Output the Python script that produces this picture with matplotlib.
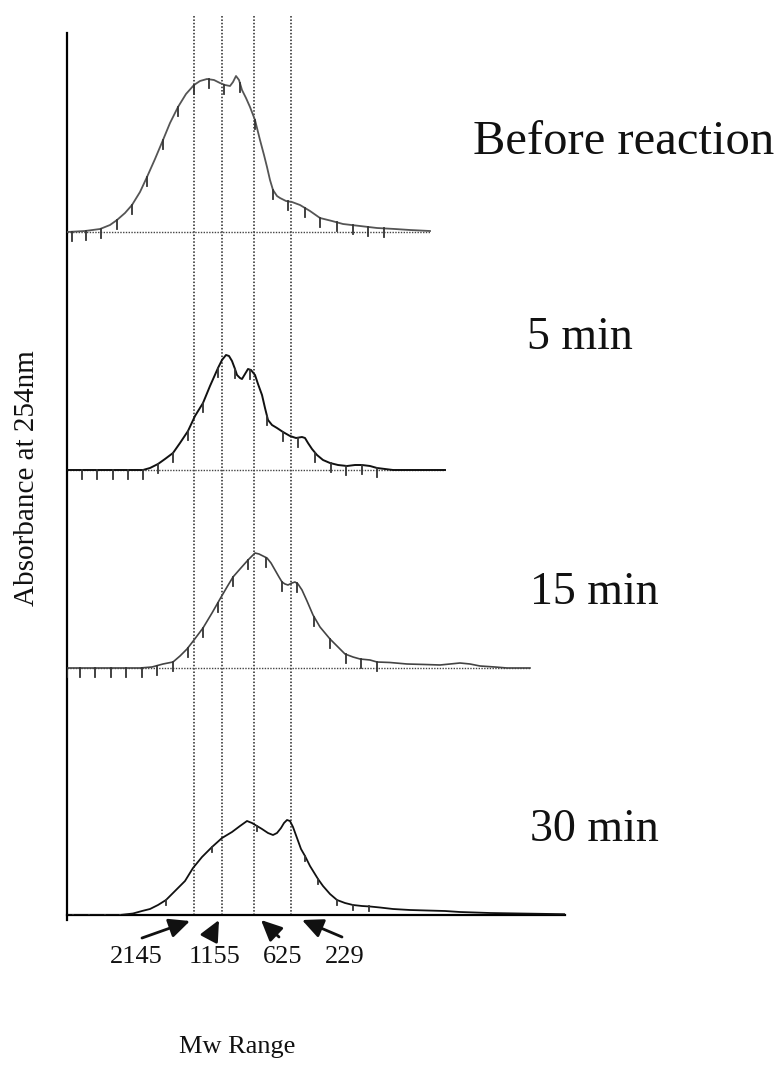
import numpy as np
import matplotlib
matplotlib.use("Agg")
import matplotlib.pyplot as plt

plt.rcParams['font.family'] = ['Liberation Serif', 'DejaVu Serif']

# ---------------- data (elution position, absorbance) ----------------
labels = ["Before reaction", "5 min", "15 min", "30 min"]
mw_labels = ["2145", "1155", "625", "229"]
mw_positions = [12.7, 15.5, 18.7, 22.4]          # vertical marker lines

before_x = [0.0, 1.8, 3.3, 4.3, 5.0, 5.8, 6.5, 7.3, 8.0, 8.8, 9.6, 10.3, 11.1, 11.9, 12.7,
            13.3, 14.0, 14.7, 15.3, 15.8, 16.3, 16.6, 16.9, 17.2, 17.5, 17.9, 18.3, 18.8,
            19.3, 19.7, 20.0, 20.3, 20.6, 21.0, 21.3, 21.9, 22.5, 23.3, 24.3, 25.3, 26.5,
            27.6, 29.3, 31.0, 32.8, 34.3, 36.3]
before_y = [0.0, 0.01, 0.03, 0.07, 0.12, 0.19, 0.27, 0.40, 0.55, 0.73, 0.92, 1.09, 1.25,
            1.38, 1.47, 1.51, 1.53, 1.52, 1.49, 1.47, 1.46, 1.50, 1.56, 1.52, 1.42, 1.34,
            1.25, 1.12, 0.92, 0.77, 0.65, 0.52, 0.42, 0.36, 0.34, 0.31, 0.30, 0.27, 0.21,
            0.14, 0.11, 0.08, 0.06, 0.04, 0.03, 0.02, 0.01]
before_ticks = [0.5, 1.9, 3.4, 5.0, 6.5, 8.0, 9.6, 11.1, 12.7, 14.2, 15.7, 17.3, 18.8,
                20.6, 22.1, 23.8, 25.3, 27.0, 28.6, 30.1, 31.7]

min5_x = [0.0, 7.6, 8.3, 9.1, 9.8, 10.6, 11.3, 12.1, 12.8, 13.6, 14.3, 15.1, 15.5, 15.9,
          16.2, 16.5, 16.8, 17.0, 17.3, 17.5, 17.8, 18.1, 18.4, 18.8, 19.1, 19.5, 19.8,
          20.1, 20.5, 21.0, 21.6, 22.3, 22.9, 23.5, 23.8, 24.1, 24.5, 25.0, 25.6, 26.3,
          27.1, 28.0, 28.8, 29.5, 30.3, 31.0, 31.8, 32.6, 37.8]
min5_y = [0.0, 0.0, 0.02, 0.06, 0.11, 0.17, 0.27, 0.39, 0.54, 0.67, 0.84, 1.02, 1.10, 1.15,
          1.14, 1.09, 1.01, 0.95, 0.92, 0.91, 0.96, 1.01, 1.00, 0.95, 0.86, 0.75, 0.62,
          0.50, 0.45, 0.42, 0.38, 0.34, 0.32, 0.33, 0.32, 0.27, 0.21, 0.15, 0.10, 0.07,
          0.05, 0.04, 0.05, 0.05, 0.04, 0.02, 0.01, 0.0, 0.0]
min5_ticks = [1.5, 3.0, 4.6, 6.1, 7.6, 9.1, 10.6, 12.1, 13.6, 15.1, 16.8, 18.3, 20.0,
              21.6, 23.1, 24.8, 26.4, 27.9, 29.5, 31.0]

min15_x = [0.0, 7.3, 8.5, 9.6, 10.6, 11.3, 12.0, 12.7, 13.6, 14.5, 15.3, 16.0, 16.6, 17.3,
           18.1, 18.5, 18.8, 19.2, 19.6, 20.0, 20.4, 20.8, 21.2, 21.5, 21.8, 22.1, 22.5,
           22.8, 23.1, 23.5, 24.0, 24.6, 25.3, 26.3, 27.1, 27.8, 28.6, 29.3, 30.3, 31.0,
           32.3, 34.0, 35.8, 37.3, 38.3, 39.3, 40.3, 41.3, 42.8, 44.0, 46.3]
min15_y = [0.0, 0.0, 0.01, 0.04, 0.06, 0.12, 0.19, 0.28, 0.40, 0.55, 0.69, 0.81, 0.91, 0.99,
           1.08, 1.12, 1.15, 1.14, 1.12, 1.10, 1.05, 0.98, 0.91, 0.86, 0.84, 0.83, 0.85,
           0.86, 0.84, 0.78, 0.67, 0.53, 0.41, 0.29, 0.21, 0.14, 0.11, 0.09, 0.08, 0.06,
           0.055, 0.04, 0.035, 0.03, 0.04, 0.05, 0.04, 0.02, 0.01, 0.0, 0.0]
min15_ticks = [0.0, 1.3, 2.8, 4.4, 5.9, 7.5, 9.0, 10.6, 12.1, 13.6, 15.1, 16.6, 18.1,
               19.9, 21.5, 23.0, 24.7, 26.3, 27.9, 29.4, 31.0]

min30_x = [0.0, 5.3, 6.6, 7.5, 8.3, 9.1, 9.9, 10.8, 11.8, 12.6, 13.5, 14.5, 15.5, 16.5,
           17.3, 18.0, 18.5, 19.0, 19.5, 20.1, 20.6, 21.0, 21.4, 21.7, 22.0, 22.3, 22.6,
           23.0, 23.4, 23.8, 24.3, 25.1, 25.6, 26.3, 27.0, 27.8, 28.6, 29.5, 30.3, 31.3,
           32.6, 34.3, 36.0, 37.8, 39.3, 42.3, 45.3, 49.8]
min30_y = [0.0, 0.0, 0.015, 0.04, 0.06, 0.10, 0.15, 0.24, 0.34, 0.47, 0.58, 0.68, 0.77,
           0.83, 0.89, 0.94, 0.92, 0.89, 0.86, 0.82, 0.80, 0.82, 0.87, 0.92, 0.95, 0.94,
           0.88, 0.77, 0.66, 0.59, 0.49, 0.36, 0.29, 0.21, 0.15, 0.12, 0.10, 0.09, 0.085,
           0.075, 0.06, 0.05, 0.045, 0.04, 0.03, 0.02, 0.015, 0.008]
min30_ticks = [0.6, 2.2, 3.8, 5.3, 9.9, 14.5, 19.0, 23.8, 25.1, 27.0, 28.6, 30.2]

baseline_offsets = [6.83, 4.45, 2.47, 0.0]
baseline_ends = [36.3, 37.8, 46.3, 49.8]

# ---------------- figure ----------------
W, H = 783, 1072
fig = plt.figure(figsize=(W / 100, H / 100), dpi=100)
fig.patch.set_facecolor('white')

x0_px, x1_px, yb_px, yt_px = 67, 565, 915, 15
ax = fig.add_axes([x0_px / W, 1 - yb_px / H, (x1_px - x0_px) / W, (yb_px - yt_px) / H])
ax.set_xlim(0, 49.8)
ax.set_ylim(0, 9.0)
ax.set_facecolor('none')
for s in ['top', 'right']:
    ax.spines[s].set_visible(False)
ax.spines['left'].set_bounds(-0.05, 8.82)
ax.spines['left'].set_linewidth(1.6)
ax.spines['bottom'].set_linewidth(1.6)
ax.set_xticks([])
ax.set_yticks([])

# vertical dotted marker lines
for xp in mw_positions:
    ax.plot([xp, xp], [0, 9.0], linestyle=(0, (1, 1.2)), color='#222222', lw=1.1, zorder=1)

series = [
    (before_x, before_y, before_ticks, '#555555', 1.3),
    (min5_x, min5_y, min5_ticks, '#111111', 1.4),
    (min15_x, min15_y, min15_ticks, '#444444', 1.2),
    (min30_x, min30_y, min30_ticks, '#111111', 1.3),
]

for (xs, ys, ticks, col, lw), off, xend in zip(series, baseline_offsets, baseline_ends):
    xs = np.asarray(xs)
    ys = np.asarray(ys) + off
    ax.plot([0, xend], [off, off], linestyle=(0, (1, 1)), color='#444444', lw=1.0, zorder=2)
    ax.plot(xs, ys, color=col, lw=lw, zorder=3, solid_joinstyle='round')
    tk = np.asarray(ticks)
    ty = np.interp(tk, xs, ys)
    tl = 0.05 if off == 0.0 else 0.09
    for a, b in zip(tk, ty):
        ax.plot([a, a], [b, b - tl], color='#333333', lw=1.3, zorder=3)

# panel labels
label_pos = [(473, 142, 35), (527, 338, 33), (530, 593, 33), (530, 830, 33)]
for txt, (px, py, fs) in zip(labels, label_pos):
    fig.text(px / W, 1 - py / H, txt, fontsize=fs, ha='left', va='center', color='#111111')

# Mw labels with arrows
mw_label_x = [136, 215, 283, 345]
mw_label_y = 946
arrow_tail = [(142, 938), (210, 937), (279, 937), (342, 937)]
arrow_head = [(190, 921), (219, 920), (261, 920), (302, 920)]
for txt, lx in zip(mw_labels, mw_label_x):
    fig.text(lx / W, 1 - mw_label_y / H, txt, fontsize=19, ha='center', va='top', color='#111111')
for (tx, ty), (hx, hy) in zip(arrow_tail, arrow_head):
    ax.annotate('', xy=(hx, H - hy), xycoords='figure pixels',
                xytext=(tx, H - ty), textcoords='figure pixels',
                arrowprops=dict(arrowstyle='-|>,head_length=0.9,head_width=0.42',
                                color='#111111', lw=2.0, mutation_scale=14,
                                shrinkA=0, shrinkB=0),
                annotation_clip=False)

fig.text(237 / W, 1 - 1047 / H, "Mw Range", fontsize=19, ha='center', va='center', color='#111111')
fig.text(27 / W, 1 - 478 / H, "Absorbance at 254nm", fontsize=21, rotation=90,
         ha='center', va='center', color='#111111')

fig.savefig('out.png', dpi=100, facecolor='white')
